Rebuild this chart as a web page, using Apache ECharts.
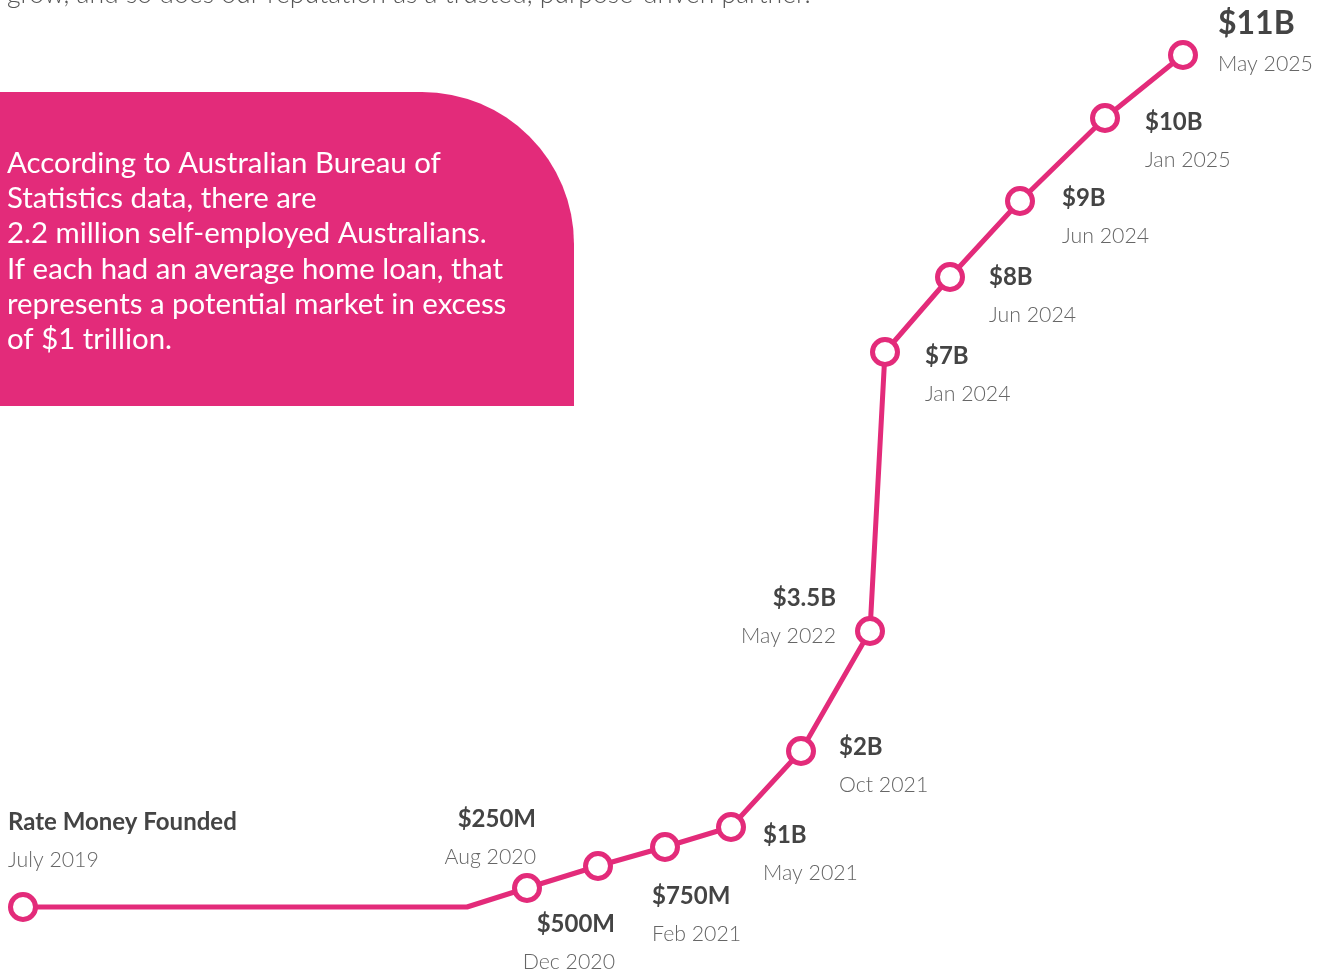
<!DOCTYPE html>
<html>
<head>
<meta charset="utf-8">
<style>
  html, body { margin: 0; padding: 0; background: #fff; }
  #chart { width: 1328px; height: 969px; }
</style>
<script src="https://cdn.jsdelivr.net/npm/echarts@6/dist/echarts.min.js"></script>
</head>
<body>
<div id="chart"></div>
<script>
// milestones along the growth track (track units: x along, y up)
const amounts = ['Rate Money Founded', '', '$250M', '$500M', '$750M', '$1B', '$2B', '$3.5B', '$7B', '$8B', '$9B', '$10B', '$11B'];
const dates = ['July 2019', '', 'Aug 2020', 'Dec 2020', 'Feb 2021', 'May 2021', 'Oct 2021', 'May 2022', 'Jan 2024', 'Jun 2024', 'Jun 2024', 'Jan 2025', 'May 2025'];
const trackX = [23, 467, 527, 598, 665, 731, 801, 870, 885, 950, 1020, 1105, 1183];
const trackY = [62, 62, 81, 103, 122, 142, 218, 338, 617, 692, 768, 851, 914];

const introText = 'grow, and so does our reputation as a trusted, purpose-driven partner.';
const calloutLines = [
  'According to Australian Bureau of',
  'Statistics data, there are',
  '2.2 million self-employed Australians.',
  'If each had an average home loan, that',
  'represents a potential market in excess',
  'of $1 trillion.'
];

// label placement per milestone: [dx, dy, align]
const labelPlace = [
  [-15, -65.5, 'left'],
  null,
  [9, -50, 'right'],
  [17, 77, 'right'],
  [-13, 68, 'left'],
  [32, 27, 'left'],
  [38, 15, 'left'],
  [-34, -14, 'right'],
  [40, 23, 'left'],
  [39, 19, 'left'],
  [42, 16.5, 'left'],
  [40, 23.5, 'left'],
  [35, -12, 'left']
];

const PINK = '#e32b7a';
const FONT = 'Lato, "Open Sans", sans-serif';

const chart = echarts.init(document.getElementById('chart'), null, { renderer: 'canvas' });

const points = trackX.map((x, i) => {
  const place = labelPlace[i];
  if (!place) {
    return { value: [x, trackY[i]], symbol: 'none', label: { show: false } };
  }
  const last = i === trackX.length - 1;
  return {
    value: [x, trackY[i]],
    label: {
      show: true,
      position: 'inside',
      align: place[2],
      verticalAlign: 'middle',
      offset: [place[0], place[1]],
      formatter: (last ? '{big|' : '{v|') + amounts[i] + '}\n{d|' + dates[i] + '}'
    }
  };
});

const option = {
  backgroundColor: '#fff',
  animation: false,
  grid: { left: 0, top: 0, width: 1328, height: 969 },
  xAxis: { type: 'value', min: 0, max: 1328, show: false },
  yAxis: { type: 'value', min: 0, max: 969, show: false },
  graphic: [
    {
      type: 'text',
      left: 7,
      top: -19,
      style: {
        text: introText,
        font: '300 26.6px ' + FONT,
        fill: '#555'
      }
    },
    {
      type: 'rect',
      shape: { x: 0, y: 92, width: 574, height: 314, r: [0, 152, 0, 0] },
      style: { fill: PINK },
      z: -1
    },
    {
      type: 'text',
      left: 7,
      top: 146,
      style: {
        text: calloutLines.join('\n'),
        font: '400 29.4px ' + FONT,
        lineHeight: 35.2,
        fill: '#fff'
      }
    }
  ],
  series: [
    {
      type: 'line',
      data: points,
      symbol: 'circle',
      symbolSize: 25,
      showAllSymbol: true,
      lineStyle: { color: PINK, width: 5 },
      itemStyle: { color: '#fff', borderColor: PINK, borderWidth: 5 },
      label: {
        rich: {
          v: { fontFamily: FONT, fontWeight: 700, fontSize: 24, color: '#444', lineHeight: 38 },
          big: { fontFamily: FONT, fontWeight: 700, fontSize: 32, color: '#444', lineHeight: 42 },
          d: { fontFamily: FONT, fontWeight: 300, fontSize: 21.3, color: '#666', lineHeight: 38 }
        }
      },
      emphasis: { disabled: true }
    }
  ]
};

chart.setOption(option);
window.addEventListener('resize', () => chart.resize());
</script>
</body>
</html>
